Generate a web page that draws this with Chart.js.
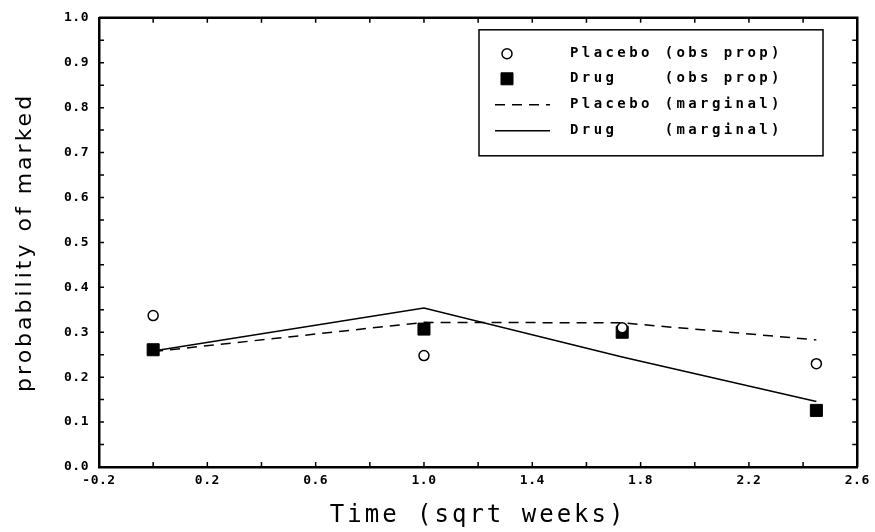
<!DOCTYPE html>
<html>
<head>
<meta charset="utf-8">
<script src="https://cdn.jsdelivr.net/npm/chart.js@4"></script>
<style>
  html, body { margin: 0; padding: 0; background: #fff; }
  #wrap { width: 875px; height: 532px; }
</style>
</head>
<body>
<div id="wrap"><canvas id="chart" width="875" height="532"></canvas></div>
<script>
// Time points (sqrt weeks) and the four series
const timeX = [0, 1, 1.732, 2.449];
const placeboObs = [0.337, 0.248, 0.310, 0.230];
const drugObs = [0.261, 0.307, 0.300, 0.126];
const placeboMarginal = [0.257, 0.322, 0.321, 0.283];
const drugMarginal = [0.258, 0.354, 0.245, 0.146];

const seriesLabels = ["Placebo (obs prop)", "Drug    (obs prop)", "Placebo (marginal)", "Drug    (marginal)"];
const xTickLabels = ["-0.2", "0.2", "0.6", "1.0", "1.4", "1.8", "2.2", "2.6"];
const yTickLabels = ["0.0", "0.1", "0.2", "0.3", "0.4", "0.5", "0.6", "0.7", "0.8", "0.9", "1.0"];

const toPoints = ys => ys.map((y, i) => ({ x: timeX[i], y: y }));

// frame on top/right, inward ticks on all sides, and the boxed legend
const framePlugin = {
    id: "framePlugin",
    beforeDraw(chart) {
        // axis titles are drawn first (grid layer), with wide spacing
        chart.ctx.letterSpacing = "3px";
    },
    afterDatasetsDraw(chart) {
        // tick labels come after the datasets (ticks.z = 1)
        chart.ctx.letterSpacing = "0.5px";
    },
    afterDraw(chart) {
        const { ctx, chartArea: a, scales: { x, y } } = chart;
        ctx.save();
        ctx.letterSpacing = "0px";
        ctx.strokeStyle = "#000";
        ctx.lineWidth = 2.5;
        ctx.beginPath();
        ctx.moveTo(a.left, a.top);
        ctx.lineTo(a.right, a.top);
        ctx.lineTo(a.right, a.bottom);
        ctx.stroke();

        ctx.lineWidth = 1.5;
        ctx.beginPath();
        x.ticks.forEach(t => {
            const px = x.getPixelForValue(t.value);
            ctx.moveTo(px, a.bottom); ctx.lineTo(px, a.bottom - 5);
            ctx.moveTo(px, a.top); ctx.lineTo(px, a.top + 5);
        });
        y.ticks.forEach(t => {
            const py = y.getPixelForValue(t.value);
            ctx.moveTo(a.left, py); ctx.lineTo(a.left + 5, py);
            ctx.moveTo(a.right, py); ctx.lineTo(a.right - 5, py);
        });
        ctx.stroke();

        // legend box
        const bx = a.left + 380, by = a.top + 12, bw = 344, bh = 126;
        ctx.lineWidth = 1.5;
        ctx.strokeRect(bx, by, bw, bh);
        ctx.font = 'bold 14px "DejaVu Sans Mono"';
        ctx.letterSpacing = "3.4px";
        ctx.fillStyle = "#000";
        ctx.textBaseline = "middle";
        const rows = [24, 49, 75, 101];
        chart.data.datasets.forEach((ds, i) => {
            const ry = by + rows[i];
            if (ds.showLine) {
                ctx.save();
                ctx.lineWidth = 1.5;
                ctx.setLineDash(ds.borderDash || []);
                ctx.beginPath();
                ctx.moveTo(bx + 16, ry);
                ctx.lineTo(bx + 71, ry);
                ctx.stroke();
                ctx.restore();
            } else {
                ctx.save();
                ctx.fillStyle = ds.backgroundColor;
                ctx.strokeStyle = ds.borderColor;
                ctx.lineWidth = ds.borderWidth;
                Chart.helpers.drawPoint(ctx, { pointStyle: ds.pointStyle, radius: ds.pointRadius, rotation: 0, borderWidth: ds.borderWidth }, bx + 28, ry);
                ctx.restore();
            }
            ctx.fillText(ds.label, bx + 91, ry);
        });
        ctx.restore();
    }
};

const tickFont = { family: "DejaVu Sans Mono", size: 13, weight: "bold" };

new Chart(document.getElementById("chart"), {
    type: "scatter",
    data: {
        datasets: [
            {
                label: seriesLabels[0], data: toPoints(placeboObs), order: 1,
                pointStyle: "circle", pointRadius: 5, borderWidth: 1.5,
                borderColor: "#000", backgroundColor: "#fff"
            },
            {
                label: seriesLabels[1], data: toPoints(drugObs), order: 1,
                pointStyle: "rect", pointRadius: 8.5, borderWidth: 1,
                borderColor: "#000", backgroundColor: "#000"
            },
            {
                label: seriesLabels[2], data: toPoints(placeboMarginal), order: 2,
                showLine: true, pointRadius: 0, borderWidth: 1.5, borderDash: [10, 7],
                borderColor: "#000", backgroundColor: "#000"
            },
            {
                label: seriesLabels[3], data: toPoints(drugMarginal), order: 2,
                showLine: true, pointRadius: 0, borderWidth: 1.5,
                borderColor: "#000", backgroundColor: "#000"
            }
        ]
    },
    options: {
        responsive: false,
        animation: false,
        layout: { padding: { top: 9, right: 13, left: 0, bottom: 0 } },
        plugins: { legend: { display: false }, tooltip: { enabled: false } },
        scales: {
            x: {
                type: "linear", min: -0.2, max: 2.6,
                afterFit: s => { s.height = 65; },
                grid: { drawOnChartArea: false, drawTicks: false },
                border: { display: true, color: "#000", width: 2.5 },
                ticks: {
                    z: 1, stepSize: 0.2, maxTicksLimit: 100, autoSkip: false, maxRotation: 0,
                    padding: 6, color: "#000", font: tickFont,
                    callback: v => { const l = v.toFixed(1); return xTickLabels.includes(l) ? l : ""; }
                },
                title: {
                    display: true, text: "Time (sqrt weeks)", color: "#000",
                    font: { family: "DejaVu Sans Mono", size: 24 }, padding: 2
                }
            },
            y: {
                min: 0, max: 1,
                afterFit: s => { s.width = 99; },
                grid: { drawOnChartArea: false, drawTicks: false },
                border: { display: true, color: "#000", width: 2.5 },
                ticks: {
                    z: 1, stepSize: 0.05, maxTicksLimit: 100, autoSkip: false,
                    padding: 10, color: "#000", font: tickFont,
                    callback: v => { const l = v.toFixed(1); return Math.round(v * 100) % 10 === 0 && yTickLabels.includes(l) ? l : ""; }
                },
                title: {
                    display: true, text: "probability of marked", color: "#000",
                    font: { family: "DejaVu Sans", size: 22 }, padding: 12
                }
            }
        }
    },
    plugins: [framePlugin]
});
</script>
</body>
</html>
